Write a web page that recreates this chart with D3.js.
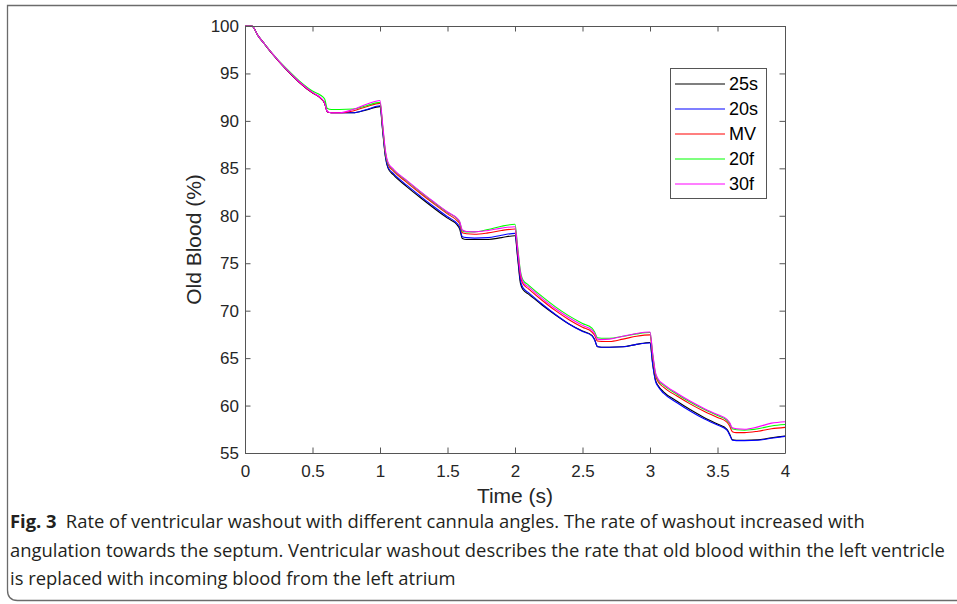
<!DOCTYPE html>
<html><head><meta charset="utf-8">
<script src="https://cdn.jsdelivr.net/npm/d3@7"></script>
<style>
html,body{margin:0;padding:0;background:#fff;}
svg{display:block;}
</style></head>
<body>
<svg id="chart" width="957" height="604"></svg>
<script>
// ---- data ----
const time = [0,0.05,0.1,0.15,0.2,0.3,0.4,0.5,0.56,0.59,0.61,0.64,0.7,0.8,0.9,1.0,1.02,1.04,1.06,1.1,1.2,1.3,1.4,1.5,1.57,1.59,1.61,1.64,1.7,1.8,1.9,2.0,2.02,2.04,2.06,2.1,2.2,2.3,2.4,2.5,2.57,2.59,2.61,2.64,2.7,2.8,2.9,3.0,3.02,3.04,3.06,3.1,3.2,3.3,3.4,3.5,3.57,3.59,3.61,3.64,3.7,3.8,3.9,4.0];

const s25s = [100,100,98.9,98.0,97.1,95.5,94.1,92.95,92.4,91.85,90.95,90.85,90.85,90.85,91.15,91.5,88.9,86.2,85.0,84.3,83.05,81.9,80.8,79.75,79.05,78.6,77.6,77.5,77.5,77.5,77.7,77.9,75.5,72.9,72.2,71.75,70.6,69.55,68.6,67.85,67.4,66.95,66.2,66.15,66.15,66.2,66.45,66.65,64.4,62.7,62.1,61.45,60.45,59.55,58.75,58.05,57.5,57.0,56.4,56.35,56.35,56.4,56.6,56.8];
const s20s = [100,100,98.9,98.0,97.1,95.5,94.1,92.95,92.4,91.85,90.95,90.85,90.85,90.85,91.2,91.6,89.0,86.3,85.1,84.45,83.2,82.05,80.95,79.9,79.2,78.8,77.8,77.7,77.65,77.7,77.95,78.15,75.7,73.2,72.4,71.9,70.7,69.6,68.6,67.8,67.35,66.9,66.25,66.15,66.15,66.2,66.45,66.6,64.3,62.6,62.0,61.3,60.3,59.4,58.6,57.95,57.4,56.9,56.35,56.3,56.3,56.35,56.55,56.75];
const sMV = [100,100,98.9,98.0,97.1,95.5,94.1,92.95,92.4,91.85,90.95,90.85,90.85,91.05,91.5,91.85,89.3,86.6,85.4,84.7,83.5,82.35,81.25,80.2,79.5,79.15,78.2,78.1,78.05,78.2,78.45,78.6,76.2,73.7,72.8,72.3,71.1,70.0,69.05,68.25,67.75,67.4,66.8,66.75,66.75,67.0,67.3,67.45,65.2,63.2,62.5,61.95,61.0,60.15,59.4,58.75,58.25,57.85,57.25,57.15,57.15,57.3,57.55,57.7];
const s20f = [100,100,98.9,98.0,97.15,95.6,94.25,93.15,92.7,92.3,91.3,91.2,91.2,91.25,91.6,91.95,89.4,86.7,85.5,84.85,83.65,82.5,81.4,80.35,79.7,79.35,78.4,78.3,78.3,78.55,78.9,79.1,76.7,74.2,73.2,72.7,71.5,70.4,69.45,68.65,68.15,67.75,67.15,67.1,67.1,67.3,67.55,67.7,65.4,63.4,62.7,62.15,61.2,60.35,59.6,58.95,58.45,58.1,57.55,57.45,57.4,57.55,57.85,58.0];
const s30f = [100,100,98.9,98.0,97.15,95.55,94.15,93.0,92.45,91.9,91.0,90.85,90.85,91.2,91.75,92.15,89.6,86.9,85.6,84.9,83.7,82.55,81.45,80.4,79.75,79.4,78.5,78.35,78.3,78.45,78.7,78.85,76.5,74.0,73.0,72.5,71.3,70.2,69.25,68.45,67.95,67.6,67.0,66.95,67.0,67.3,67.6,67.75,65.5,63.5,62.8,62.25,61.3,60.45,59.7,59.05,58.55,58.2,57.65,57.55,57.5,57.75,58.15,58.3];

const seriesNames = ["25s","20s","MV","20f","30f"];
const seriesValues = [s25s, s20s, sMV, s20f, s30f];
const seriesColors = ["#000000","#0000ff","#ff0000","#00ff00","#ff00ff"];

const xTicks = [0,0.5,1,1.5,2,2.5,3,3.5,4];
const xTickLabels = ["0","0.5","1","1.5","2","2.5","3","3.5","4"];
const yTicks = [55,60,65,70,75,80,85,90,95,100];

const xLabel = "Time (s)";
const yLabel = "Old Blood (%)";
const captionBold = "Fig. 3";
const captionLines = [
  "Rate of ventricular washout with different cannula angles. The rate of washout increased with",
  "angulation towards the septum. Ventricular washout describes the rate that old blood within the left ventricle",
  "is replaced with incoming blood from the left atrium"
];

// ---- layout ----
const svg = d3.select("#chart");
const L = 245, R = 785, T = 26, B = 453;
const x = d3.scaleLinear().domain([0,4]).range([L,R]);
const y = d3.scaleLinear().domain([55,100]).range([B,T]);
const axisColor = "#262626";
const font = "'Liberation Sans', Arial, sans-serif";

// figure frame
svg.append("path")
  .attr("d", `M957,5.5 H7.5 V590 Q7.5,600.5 17.5,600.5 H957`)
  .attr("fill","none").attr("stroke","#6b6b6b").attr("stroke-width",1.3);

// lines
const g = svg.append("g");
const line = d3.line().x(d=>x(d[0])).y(d=>y(d[1])).curve(d3.curveMonotoneX);
seriesValues.forEach((vals,i)=>{
  g.append("path")
    .datum(time.map((t,j)=>[t, vals[j]]))
    .attr("d", line)
    .attr("fill","none")
    .attr("stroke", seriesColors[i])
    .attr("stroke-width",1.1);
});

// axes (box with inward ticks)
const tickLen = 5.5;
const axB = svg.append("g").attr("transform",`translate(0,${B})`)
  .call(d3.axisBottom(x).tickValues(xTicks).tickFormat((d,i)=>xTickLabels[i]).tickSizeInner(-tickLen).tickSizeOuter(0).tickPadding(12));
const axT = svg.append("g").attr("transform",`translate(0,${T})`)
  .call(d3.axisTop(x).tickValues(xTicks).tickFormat("").tickSizeInner(-tickLen).tickSizeOuter(0));
const axL = svg.append("g").attr("transform",`translate(${L},0)`)
  .call(d3.axisLeft(y).tickValues(yTicks).tickFormat(d3.format("d")).tickSizeInner(-tickLen).tickSizeOuter(0).tickPadding(6));
const axR = svg.append("g").attr("transform",`translate(${R},0)`)
  .call(d3.axisRight(y).tickValues(yTicks).tickFormat("").tickSizeInner(-tickLen).tickSizeOuter(0));
[axB,axT,axL,axR].forEach(a=>{
  a.selectAll("path.domain").attr("stroke","#555").attr("stroke-width",1);
  a.selectAll(".tick line").attr("stroke","#555").attr("stroke-width",1);
  a.selectAll("text").attr("fill",axisColor).style("font-family",font).style("font-size","17px");
});

// axis titles
svg.append("text").attr("x",(L+R)/2).attr("y",503)
  .attr("text-anchor","middle").style("font-family",font).style("font-size","21px").attr("fill",axisColor)
  .text(xLabel);
svg.append("text").attr("transform",`translate(201,${(T+B)/2}) rotate(-90)`)
  .attr("text-anchor","middle").style("font-family",font).style("font-size","21px").attr("fill",axisColor)
  .text(yLabel);

// legend
const lg = svg.append("g");
lg.append("rect").attr("x",670.5).attr("y",68.5).attr("width",96).attr("height",130)
  .attr("fill","#fff").attr("stroke","#555").attr("stroke-width",1);
seriesNames.forEach((n,i)=>{
  const yy = 84 + i*25;
  lg.append("line").attr("x1",675).attr("x2",725).attr("y1",yy).attr("y2",yy)
    .attr("stroke",seriesColors[i]).attr("stroke-width",1.1);
  lg.append("text").attr("x",729).attr("y",yy).attr("dy","0.36em")
    .style("font-family",font).style("font-size","18px").attr("fill","#000").text(n);
});

// caption
const capFont = "'Open Sans', 'Noto Sans', sans-serif";
const cap = svg.append("g").style("font-family",capFont).style("font-size","18.4px").attr("fill","#231f20");
const t1 = cap.append("text").attr("x",10).attr("y",528);
t1.append("tspan").style("font-weight","bold").text(captionBold);
t1.append("tspan").text("\u2002" + captionLines[0]);
cap.append("text").attr("x",10).attr("y",557).text(captionLines[1]);
cap.append("text").attr("x",10).attr("y",585).text(captionLines[2]);
</script>
</body></html>
